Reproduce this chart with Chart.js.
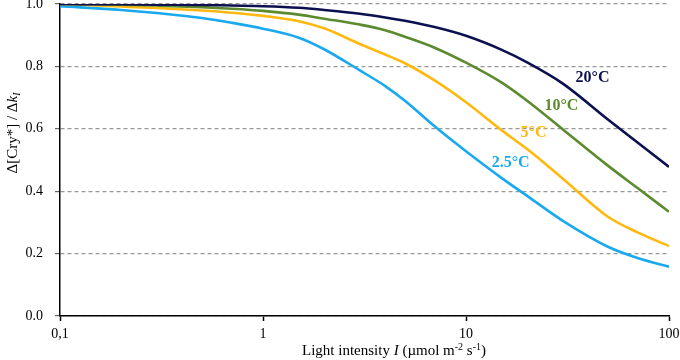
<!DOCTYPE html>
<html lang="en">
<head>
    <meta charset="UTF-8">
    <title>Cry* response vs light intensity</title>
    <script src="https://cdn.jsdelivr.net/npm/chart.js"></script>
    <style>
        html, body { margin: 0; padding: 0; background: #fff; }
        #wrap { width: 680px; height: 360px; }
    </style>
</head>
<body>
    <div id="wrap"><canvas id="cryChart"></canvas></div>

    <script>
    // Light intensity (µmol m-2 s-1)
    const intensity = [0.1, 0.2, 0.3, 0.5, 0.7, 1, 1.5, 2, 3, 4, 5, 7, 10, 15, 20, 30, 50, 70, 100];

    // Δ[Cry*] / Δk1 for each temperature
    const t20 = [1.0, 0.999, 0.998, 0.997, 0.995, 0.993, 0.988, 0.981, 0.969, 0.957, 0.946, 0.926, 0.898, 0.853, 0.813, 0.745, 0.63, 0.556, 0.478];
    const t10 = [1.0, 0.998, 0.995, 0.99, 0.985, 0.978, 0.966, 0.953, 0.934, 0.916, 0.895, 0.86, 0.812, 0.748, 0.69, 0.598, 0.482, 0.41, 0.334];
    const t5 = [1.0, 0.992, 0.987, 0.979, 0.972, 0.962, 0.945, 0.922, 0.872, 0.838, 0.81, 0.755, 0.685, 0.595, 0.535, 0.44, 0.318, 0.268, 0.224];
    const t25 = [0.993, 0.981, 0.971, 0.955, 0.94, 0.921, 0.892, 0.855, 0.787, 0.737, 0.69, 0.608, 0.528, 0.442, 0.385, 0.305, 0.222, 0.186, 0.158];

    const seriesNames = ['20°C', '10°C', '5°C', '2.5°C'];
    const xTicks = [0.1, 1, 10, 100];
    const yTicks = [0, 0.2, 0.4, 0.6, 0.8, 1.0];

    const colors = ['#0c1050', '#5c8a2e', '#ffb810', '#19a9ee'];
    // where each curve label sits, in data units (x, y)
    const labelAt = [[42, 0.762], [29.5, 0.672], [21.5, 0.586], [16.6, 0.49]];

    const SERIF = '"Liberation Serif", "Times New Roman", serif';

    function pts(ys) {
        return intensity.map((x, i) => ({x: x, y: ys[i]}));
    }

    // draw a run of text pieces with their own font / offset
    function drawPieces(ctx, pieces, x, y) {
        let w = 0;
        pieces.forEach(p => { ctx.font = p.font; w += ctx.measureText(p.t).width; });
        let cx = x - w / 2;
        pieces.forEach(p => {
            ctx.font = p.font;
            ctx.fillText(p.t, cx, y + (p.dy || 0));
            cx += ctx.measureText(p.t).width;
        });
    }

    const extras = {
        id: 'extras',
        afterDraw(chart) {
            const ctx = chart.ctx;
            const xs = chart.scales.x, ys = chart.scales.y;
            ctx.save();

            // curve labels
            ctx.font = 'bold 16px ' + SERIF;
            ctx.textAlign = 'center';
            ctx.textBaseline = 'middle';
            seriesNames.forEach((name, i) => {
                ctx.fillStyle = colors[i];
                ctx.fillText(name, xs.getPixelForValue(labelAt[i][0]), ys.getPixelForValue(labelAt[i][1]));
            });

            // x title
            ctx.textAlign = 'left';
            ctx.textBaseline = 'alphabetic';
            ctx.fillStyle = '#000';
            const reg = '15px ' + SERIF, ita = 'italic 15px ' + SERIF, sm = '10px ' + SERIF;
            drawPieces(ctx, [
                {t: 'Light intensity ', font: reg},
                {t: 'I', font: ita},
                {t: ' (µmol m', font: reg},
                {t: '-2', font: sm, dy: -5},
                {t: ' s', font: reg},
                {t: '-1', font: sm, dy: -5},
                {t: ')', font: reg}
            ], 394, 355);

            // y title, rotated
            ctx.translate(17, 133);
            ctx.rotate(-Math.PI / 2);
            drawPieces(ctx, [
                {t: 'Δ[Cry*] / Δ', font: reg},
                {t: 'k', font: ita},
                {t: 'I', font: 'italic 10px ' + SERIF, dy: 3}
            ], 0, 0);
            ctx.restore();
        }
    };

    new Chart(document.getElementById('cryChart'), {
        type: 'line',
        data: {
            datasets: [t20, t10, t5, t25].map((ys, i) => ({
                label: seriesNames[i],
                data: pts(ys),
                borderColor: colors[i],
                backgroundColor: colors[i],
                borderWidth: 2.6,
                pointRadius: 0,
                cubicInterpolationMode: 'monotone',
                fill: false
            }))
        },
        options: {
            responsive: true,
            maintainAspectRatio: false,
            animation: false,
            layout: {padding: {top: 4, right: 11, left: 0, bottom: 0}},
            plugins: {legend: {display: false}, tooltip: {enabled: false}},
            scales: {
                x: {
                    type: 'logarithmic',
                    min: 0.1,
                    max: 100,
                    afterBuildTicks: s => { s.ticks = xTicks.map(v => ({value: v})); },
                    afterFit: s => { s.height = 44; s.paddingLeft = 0; s.paddingRight = 0; },
                    ticks: {
                        color: '#000',
                        font: {family: SERIF, size: 14},
                        padding: 5,
                        maxRotation: 0,
                        autoSkip: false,
                        callback: v => String(v).replace('.', ',')
                    },
                    grid: {drawOnChartArea: false, tickColor: '#000', tickLength: 5, tickWidth: 1.5},
                    border: {color: '#000', width: 1.5}
                },
                y: {
                    min: 0,
                    max: 1,
                    afterBuildTicks: s => { s.ticks = yTicks.map(v => ({value: v})); },
                    afterFit: s => { s.width = 60; s.paddingTop = 0; s.paddingBottom = 0; },
                    ticks: {
                        color: '#000',
                        font: {family: SERIF, size: 14},
                        padding: 12,
                        callback: v => Number(v).toFixed(1)
                    },
                    grid: {color: '#999', lineWidth: 1.2, tickColor: '#666', tickLength: 5, tickBorderDash: []},
                    border: {color: '#000', width: 1.5, dash: [4, 3]}
                }
            }
        },
        plugins: [extras]
    });
    </script>
</body>
</html>
